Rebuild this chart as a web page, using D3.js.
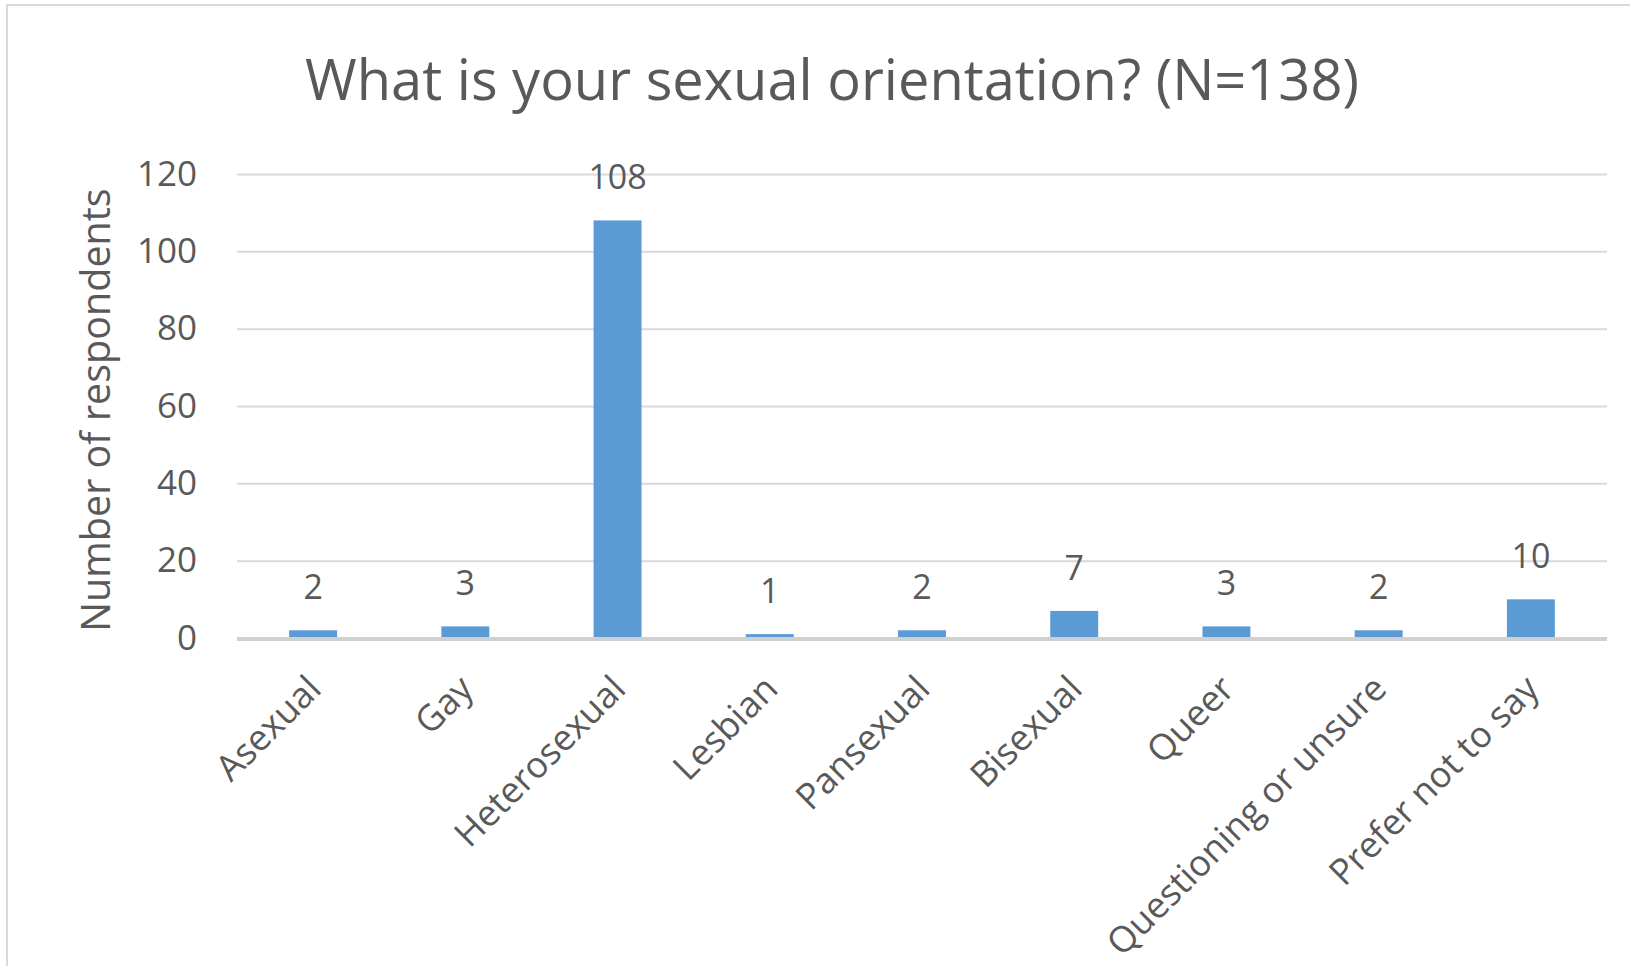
<!DOCTYPE html>
<html>
<head>
<meta charset="utf-8">
<script src="https://cdn.jsdelivr.net/npm/d3@7"></script>
<style>
  html, body { margin: 0; padding: 0; background: #ffffff; }
  svg { display: block; }
  text { font-family: "Open Sans", "Noto Sans", sans-serif; fill: #595959; }
</style>
</head>
<body>
<svg id="chart" width="1630" height="966"></svg>
<script>
// Survey responses: sexual orientation
const categories = ["Asexual", "Gay", "Heterosexual", "Lesbian", "Pansexual",
                    "Bisexual", "Queer", "Questioning or unsure", "Prefer not to say"];
const counts = [2, 3, 108, 1, 2, 7, 3, 2, 10];
const yTicks = [0, 20, 40, 60, 80, 100, 120];
const titleText = "What is your sexual orientation? (N=138)";
const yAxisTitle = "Number of respondents";

const svg = d3.select("#chart");
const W = 1630, H = 966;

// chart frame
svg.append("rect")
  .attr("x", 7).attr("y", 5)
  .attr("width", W + 40).attr("height", H + 40)
  .attr("fill", "#ffffff")
  .attr("stroke", "#d9d9d9").attr("stroke-width", 2);

const plot = { left: 237, right: 1607, top: 174, bottom: 638 };

const x = d3.scaleBand()
  .domain(categories)
  .range([plot.left, plot.right])
  .paddingInner(0.685)
  .paddingOuter(0.685 / 2);

const y = d3.scaleLinear()
  .domain([0, 120])
  .range([plot.bottom, plot.top]);

// horizontal gridlines + value axis labels
const yAxis = d3.axisLeft(y)
  .tickValues(yTicks)
  .tickSize(-(plot.right - plot.left))
  .tickPadding(40)
  .tickFormat(d3.format("d"));

const gy = svg.append("g")
  .attr("transform", `translate(${plot.left},0)`)
  .call(yAxis);
gy.select(".domain").remove();
gy.selectAll(".tick line")
  .attr("stroke", "#d9d9d9")
  .attr("stroke-width", 2);
gy.selectAll(".tick text")
  .attr("font-size", 35)
  .attr("fill", "#595959")
  .attr("font-family", "'Open Sans', sans-serif");

// bars
svg.append("g").selectAll("rect")
  .data(categories)
  .join("rect")
  .attr("x", d => x(d))
  .attr("width", x.bandwidth())
  .attr("y", (d, i) => y(counts[i]))
  .attr("height", (d, i) => y(0) - y(counts[i]))
  .attr("fill", "#5b9bd5");

// category axis line
svg.append("line")
  .attr("x1", plot.left).attr("x2", plot.right)
  .attr("y1", y(0) + 1).attr("y2", y(0) + 1)
  .attr("stroke", "#d0d0d0").attr("stroke-width", 4);

// value labels
svg.append("g").selectAll("text")
  .data(categories)
  .join("text")
  .attr("x", d => x(d) + x.bandwidth() / 2)
  .attr("y", (d, i) => y(counts[i]) - 31)
  .attr("text-anchor", "middle")
  .attr("font-size", 34)
  .attr("fill", "#404040")
  .text((d, i) => counts[i]);

// category labels, rotated
const xAxis = d3.axisBottom(x).tickSize(0).tickPadding(0);
const gx = svg.append("g")
  .attr("transform", `translate(0,${plot.bottom})`)
  .call(xAxis);
gx.select(".domain").remove();
gx.selectAll(".tick text")
  .attr("font-size", 36)
  .attr("fill", "#595959")
  .attr("font-family", "'Open Sans', sans-serif")
  .attr("text-anchor", "end")
  .attr("dy", null)
  .attr("y", null)
  .attr("transform", "translate(10,53) rotate(-45)");

// value axis title
svg.append("text")
  .attr("transform", "translate(110,410) rotate(-90)")
  .attr("text-anchor", "middle")
  .attr("font-size", 39.5)
  .text(yAxisTitle);

// chart title
svg.append("text")
  .attr("x", 832).attr("y", 100)
  .attr("text-anchor", "middle")
  .attr("font-size", 56)
  .text(titleText);
</script>
</body>
</html>
